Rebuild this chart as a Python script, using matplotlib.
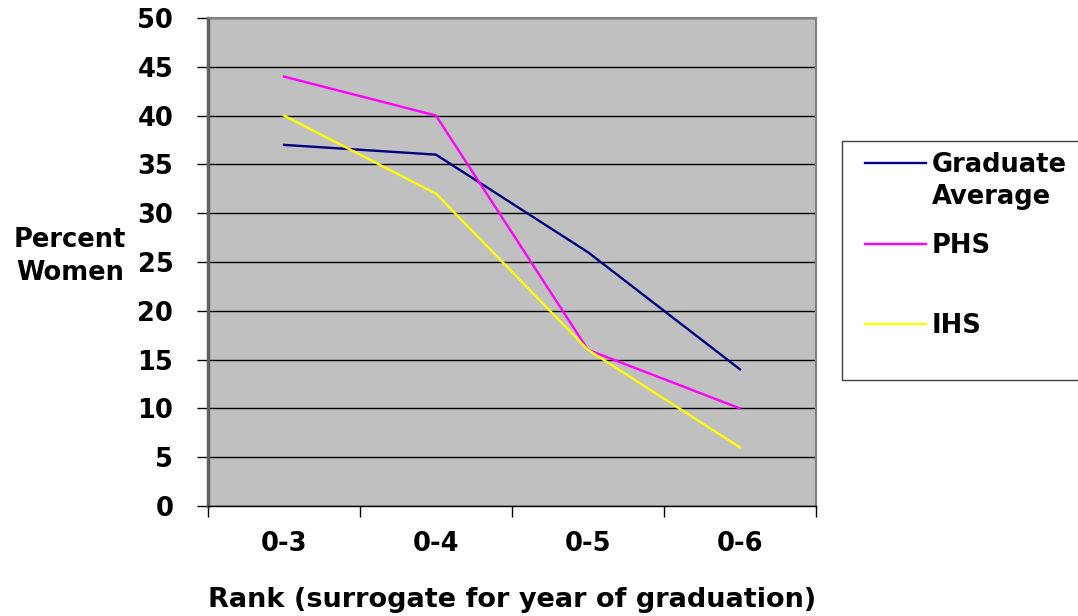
import numpy as np
import matplotlib.pyplot as plt
from matplotlib.lines import Line2D
from matplotlib.patches import Rectangle

# 数据
ranks = ['0-3', '0-4', '0-5', '0-6']
grad_avg = [37, 36, 26, 14]
phs = [44, 40, 16, 10]
ihs = [40, 32, 16, 6]

series = [('Graduate\nAverage', grad_avg, '#000080'),
          ('PHS', phs, '#FF00FF'),
          ('IHS', ihs, '#FFFF00')]

plt.rcParams['font.family'] = ['DejaVu Sans']
plt.rcParams['font.weight'] = 'bold'
FS = 18.5

W, H = 1078, 616
fig = plt.figure(figsize=(W / 100, H / 100), dpi=100)
ax = fig.add_axes([208 / W, 1 - 506 / H, (816 - 208) / W, (506 - 18) / H])
ax.set_facecolor('#C0C0C0')

x = np.arange(len(ranks))
for name, vals, col in series:
    ax.plot(x, vals, color=col, lw=1.7, label=name)

ax.set_xlim(-0.5, len(ranks) - 0.5)
ax.set_ylim(0, 50)
ax.set_yticks(np.arange(0, 51, 5))
ax.yaxis.grid(True, color='black', lw=1)
ax.set_axisbelow(True)

# x 轴：刻度在类别之间，标签在中间
ax.set_xticks(np.arange(-0.5, len(ranks), 1))
ax.set_xticklabels([])
ax.set_xticks(x, minor=True)
ax.set_xticklabels(ranks, minor=True, fontsize=FS, fontweight='bold')
ax.tick_params(axis='x', which='minor', length=0, pad=18)
ax.tick_params(axis='x', which='major', length=8, width=1, color='black')
ax.tick_params(axis='y', length=8, width=1, color='black', labelsize=FS, pad=17)
for lab in ax.get_yticklabels():
    lab.set_fontweight('bold')

for side in ['top', 'right']:
    ax.spines[side].set_color('#808080')
    ax.spines[side].set_linewidth(1.5)
ax.spines['left'].set_color('#606060')
ax.spines['left'].set_linewidth(2.5)
ax.spines['bottom'].set_color('black')
ax.spines['bottom'].set_linewidth(1)

fig.text(70 / W, 1 - 247 / H, 'Percent', ha='center', va='baseline',
         fontsize=FS, fontweight='bold')
fig.text(70 / W, 1 - 280 / H, 'Women', ha='center', va='baseline',
         fontsize=FS, fontweight='bold')
fig.text(512 / W, 1 - 607 / H, 'Rank (surrogate for year of graduation)',
         ha='center', va='baseline', fontsize=19.5, fontweight='bold')

# 图例（手动绘制）
fig.patches.append(Rectangle((842 / W, 1 - 380 / H), (1080 - 842) / W, (380 - 141) / H,
                             transform=fig.transFigure, facecolor='white',
                             edgecolor='#404040', lw=1))
leg_y = [163, 244, 324]
for (name, vals, col), yy in zip(series, leg_y):
    fig.lines.append(Line2D([865 / W, 926 / W], [1 - yy / H, 1 - yy / H],
                            transform=fig.transFigure, color=col, lw=1.7))
    for i, row in enumerate(name.split('\n')):
        fig.text(932 / W, 1 - (yy + 9 + 32 * i) / H, row, ha='left', va='baseline',
                 fontsize=FS, fontweight='bold')

fig.savefig('out.png', dpi=100)
